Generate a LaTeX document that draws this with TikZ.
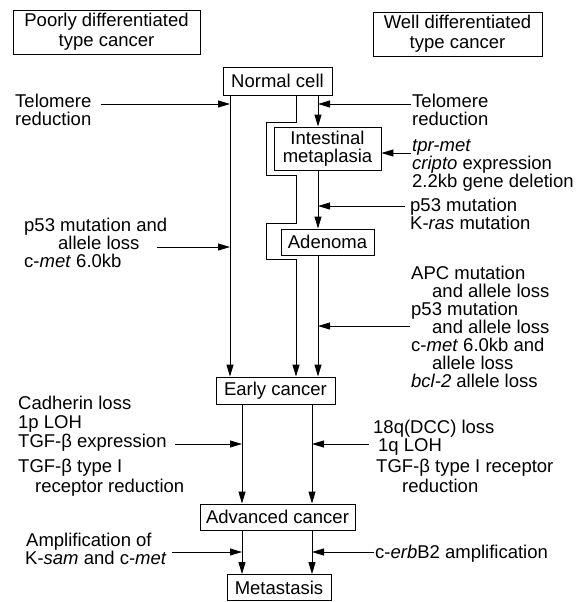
\documentclass[tikz,border=0pt]{standalone}
\usepackage{fontspec}
\setmainfont{Liberation Sans}
\usetikzlibrary{arrows.meta}
\begin{document}
\begin{tikzpicture}[x=1pt,y=-1pt,
  every node/.style={font=\fontsize{18.5}{19}\selectfont},
  box/.style={draw, line width=0.9pt, inner sep=0pt, align=center},
  lbl/.style={anchor=base west, inner sep=0pt},
  ln/.style={line width=0.9pt},
  arr/.style={line width=0.9pt, -{Triangle[length=12pt,width=7pt]}}]
\useasboundingbox (0,0) rectangle (578,602);

% boxes
\node[box, minimum width=187pt, minimum height=44pt, font=\fontsize{18.5}{20}\selectfont] (poor) at (106.5,32) {Poorly differentiated\\type cancer};
\node[box, minimum width=169pt, minimum height=44pt, font=\fontsize{18.5}{20}\selectfont] (well) at (457.5,34) {Well differentiated\\type cancer};
\node[box, minimum width=109pt, minimum height=28pt] (normal) at (277.5,81) {Normal cell};
\node[box, minimum width=107pt, minimum height=43pt, font=\fontsize{18.5}{18}\selectfont] (intest) at (327.5,148.5) {Intestinal\\metaplasia};
\node[box, minimum width=93pt, minimum height=26pt] (adenoma) at (327.5,242) {Adenoma};
\node[box, minimum width=119pt, minimum height=27pt] (early) at (275.5,390.5) {Early cancer};
\node[box, minimum width=155pt, minimum height=26pt] (adv) at (277.5,517) {Advanced cancer};
\node[box, minimum width=104pt, minimum height=26pt] (meta) at (279,587.5) {Metastasis};

% x positions of the vertical connectors
\coordinate (xL) at (230,0);
\coordinate (xB) at (296,0);
\coordinate (xR) at (318,0);
\coordinate (xL2) at (242,0);
\coordinate (xR2) at (312,0);

% vertical connectors
\draw[arr] (normal.south -| xL) -- (early.north -| xL);
\draw[arr] (normal.south -| xB) -- (296,122) -- (266,122) -- (266,175) -- (296,175)
  -- (296,223) -- (266,223) -- (266,259) -- (296,259) -- (early.north -| xB);
\draw[arr] (normal.south -| xR) -- (intest.north -| xR);
\draw[arr] (intest.south -| xR) -- (adenoma.north -| xR);
\draw[arr] (adenoma.south -| xR) -- (early.north -| xR);
\draw[arr] (early.south -| xL2) -- (adv.north -| xL2);
\draw[arr] (early.south -| xR2) -- (adv.north -| xR2);
\draw[arr] (adv.south -| xL2) -- (meta.north -| xL2);
\draw[arr] (adv.south -| xR2) -- (meta.north -| xR2);

% left labels
\node[lbl] (tl1) at (15,107) {Telomere};
\node[lbl] (tl2) at (15,125) {reduction};
\node[lbl] (pl1) at (24,231) {p53 mutation and};
\node[lbl] (pl2) at (58,249) {allele loss};
\node[lbl] (pl3) at (24,267) {c-\textit{met} 6.0kb};
\node[lbl] (cl1) at (18,409) {Cadherin loss};
\node[lbl] (cl2) at (18,428) {1p LOH};
\node[lbl] (cl3) at (18,447) {TGF-β expression};
\node[lbl] (cl4) at (18,472) {TGF-β type I};
\node[lbl] (cl5) at (35,492) {receptor reduction};
\node[lbl] (al1) at (26,546) {Amplification of};
\node[lbl] (al2) at (25,564) {K-\textit{sam} and c-\textit{met}};

% right labels
\node[lbl] (tr1) at (412,107) {Telomere};
\node[lbl] (tr2) at (412,125) {reduction};
\node[lbl] (gr1) at (412,151) {\textit{tpr-met}};
\node[lbl] (gr2) at (412,169) {\textit{cripto} expression};
\node[lbl] (gr3) at (412,187) {2.2kb gene deletion};
\node[lbl] (kr1) at (410,211) {p53 mutation};
\node[lbl] (kr2) at (410,229) {K-\textit{ras} mutation};
\node[lbl] (ar1) at (411,279) {APC mutation};
\node[lbl] (ar2) at (432,297) {and allele loss};
\node[lbl] (ar3) at (411,315) {p53 mutation};
\node[lbl] (ar4) at (432,333) {and allele loss};
\node[lbl] (ar5) at (411,351) {c-\textit{met} 6.0kb and};
\node[lbl] (ar6) at (432,369) {allele loss};
\node[lbl] (ar7) at (411,387) {\textit{bcl-2} allele loss};
\node[lbl] (dr1) at (373,433) {18q(DCC) loss};
\node[lbl] (dr2) at (378,451) {1q LOH};
\node[lbl] (dr3) at (376,472) {TGF-β type I receptor};
\node[lbl] (dr4) at (402,492) {reduction};
\node[lbl] (er1) at (375,558) {c-\textit{erb}B2 amplification};

% tails of the side arrows
\coordinate (sTL) at (101,104);
\coordinate (sPL) at (157,247);
\coordinate (sCL) at (175,444);
\coordinate (sAL) at (172,552);
\coordinate (sTR) at (411,104);
\coordinate (sGR) at (411,153);
\coordinate (sKR) at (405,206);
\coordinate (sAR) at (410,326);
\coordinate (sDR) at (369,444);
\coordinate (sER) at (374,552);

\draw[arr] (sTL) -- (sTL -| xL);
\draw[arr] (sPL) -- (sPL -| xL);
\draw[arr] (sCL) -- (sCL -| xL2);
\draw[arr] (sAL) -- (sAL -| xL2);
\draw[arr] (sTR) -- (sTR -| xR);
\draw[arr] (sGR) -- (sGR -| intest.east);
\draw[arr] (sKR) -- (sKR -| xR);
\draw[arr] (sAR) -- (sAR -| xR);
\draw[arr] (sDR) -- (sDR -| xR2);
\draw[arr] (sER) -- (sER -| xR2);
\end{tikzpicture}
\end{document}
